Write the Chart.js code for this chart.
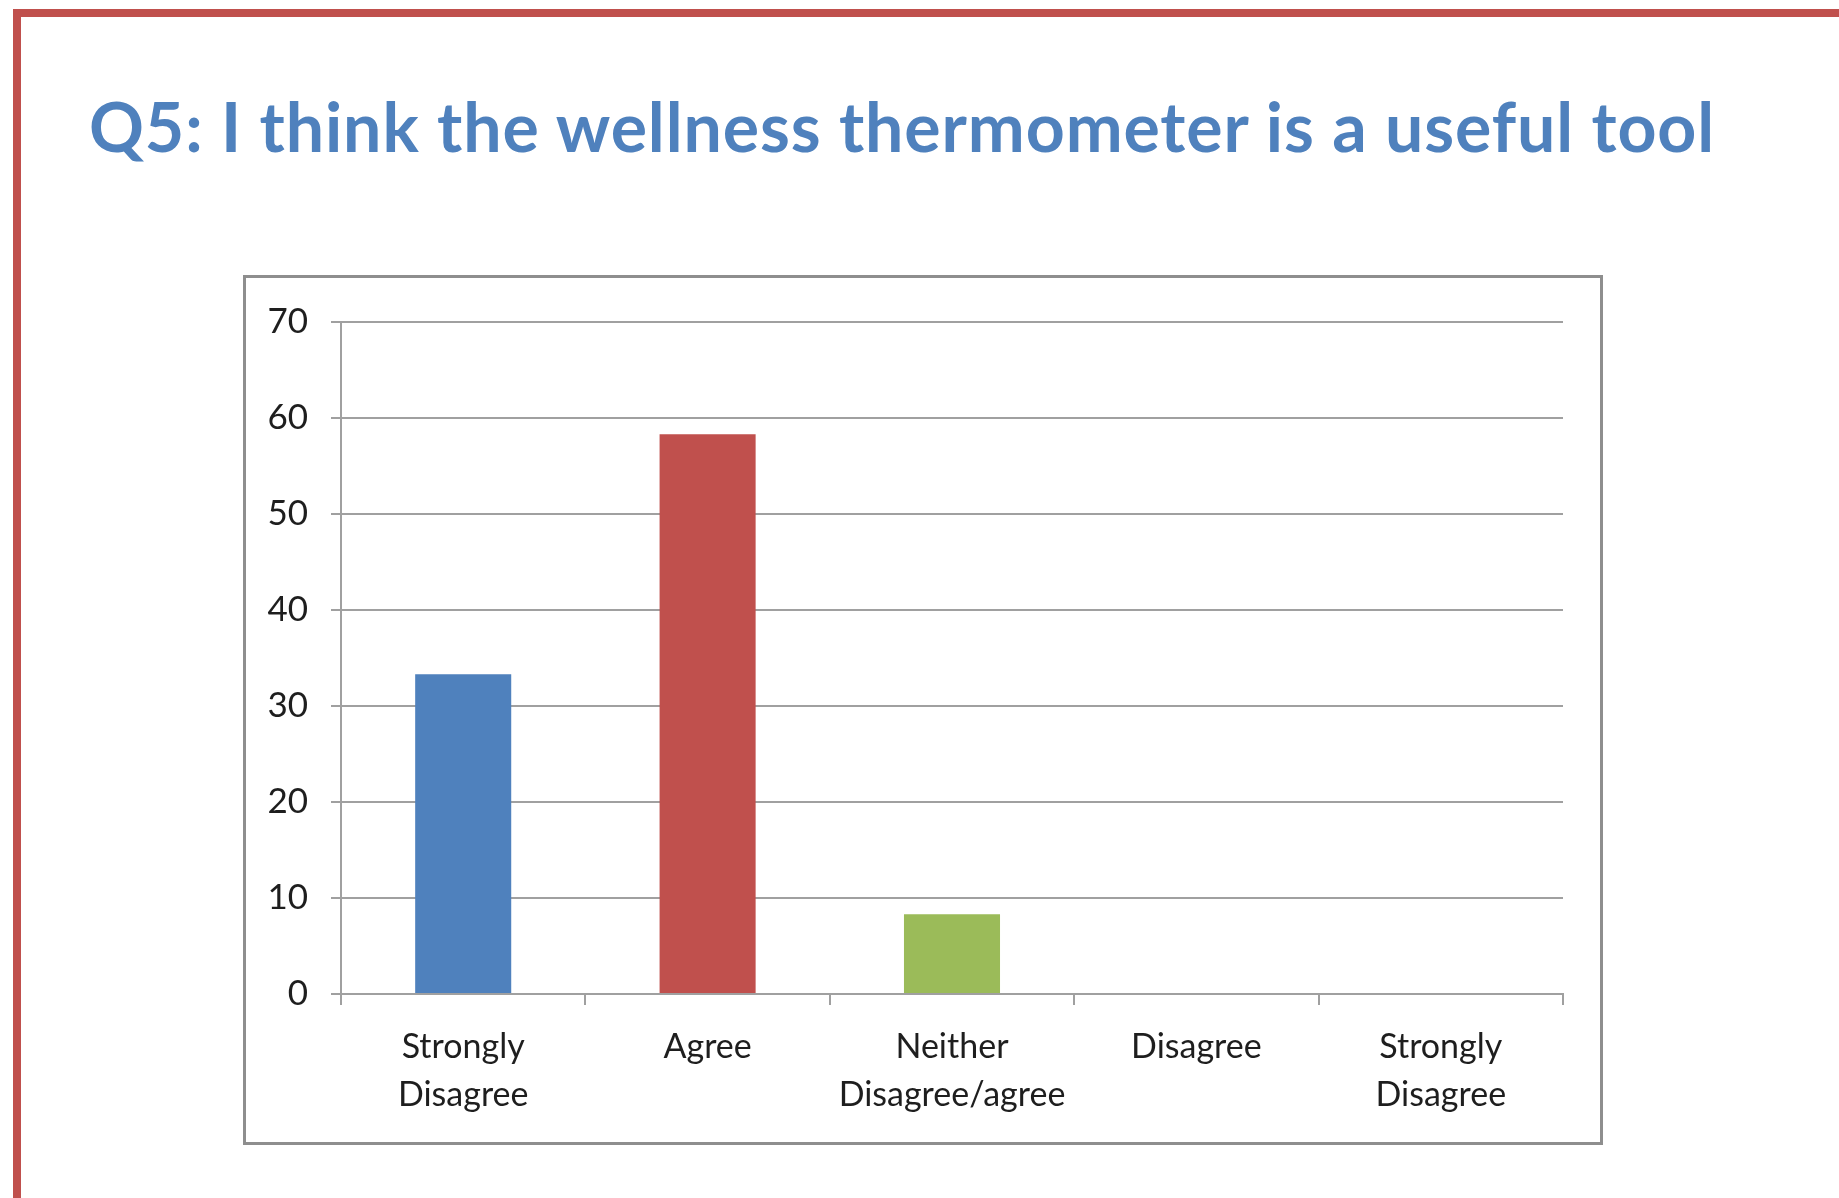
<!DOCTYPE html>
<html>
<head>
<meta charset="utf-8">
<script src="https://cdn.jsdelivr.net/npm/chart.js@4.4.1/dist/chart.umd.min.js"></script>
<style>
  html, body { margin: 0; padding: 0; background: #fff; }
  body { width: 1839px; height: 1198px; position: relative; overflow: hidden; }
  #frame {
    position: absolute; left: 13px; top: 9px; width: 1900px; height: 1300px;
    border-top: 8px solid #C0504D; border-left: 8px solid #C0504D;
  }
  #title {
    position: absolute; left: 89px; top: 85px;
    font-family: Lato, sans-serif; font-weight: bold; font-size: 68px; line-height: 1.2;
    letter-spacing: 0.9px;
    color: #4F81BD; white-space: nowrap;
  }
  #box {
    position: absolute; left: 243px; top: 275px; width: 1354px; height: 864px;
    border: 3px solid #8E8E8E;
  }
</style>
</head>
<body>
<div id="frame"></div>
<div id="title">Q5: I think the wellness thermometer is a useful tool</div>
<div id="box"><canvas id="myChart" width="1354" height="864"></canvas></div>
<script>
const categories = [['Strongly', 'Disagree'], 'Agree', ['Neither', 'Disagree/agree'], 'Disagree', ['Strongly', 'Disagree']];
const values = [33.3, 58.3, 8.3, 0, 0];
const barColors = ['#4F81BD', '#C0504D', '#9BBB59', '#8064A2', '#4BACC6'];
const yTicks = [0, 10, 20, 30, 40, 50, 60, 70];

new Chart(document.getElementById('myChart'), {
  type: 'bar',
  data: {
    labels: categories,
    datasets: [{
      data: values,
      backgroundColor: barColors,
      borderWidth: 0,
      barPercentage: 0.393,
      categoryPercentage: 1
    }]
  },
  options: {
    responsive: false,
    animation: false,
    layout: { padding: { left: 0, top: 42, right: 37, bottom: 0 } },
    plugins: {
      legend: { display: false },
      tooltip: { enabled: false }
    },
    scales: {
      x: {
        grid: { display: true, drawOnChartArea: false, tickLength: 11, color: '#A0A0A0', lineWidth: 2 },
        border: { display: true, color: '#A0A0A0', width: 2 },
        ticks: {
          color: '#1e1e1e',
          padding: 18,
          maxRotation: 0,
          autoSkip: false,
          font: { family: 'Lato', size: 34, lineHeight: 1.41 }
        },
        afterFit: function (scale) { scale.height = 148; }
      },
      y: {
        min: 0,
        max: 70,
        afterBuildTicks: function (scale) { scale.ticks = yTicks.map(v => ({ value: v })); },
        grid: { color: '#A0A0A0', lineWidth: 2, tickLength: 10 },
        border: { display: true, color: '#A0A0A0', width: 2 },
        ticks: {
          color: '#1e1e1e',
          padding: 23,
          font: { family: 'Lato', size: 35 }
        },
        afterFit: function (scale) { scale.width = 95; }
      }
    }
  }
});
</script>
</body>
</html>
